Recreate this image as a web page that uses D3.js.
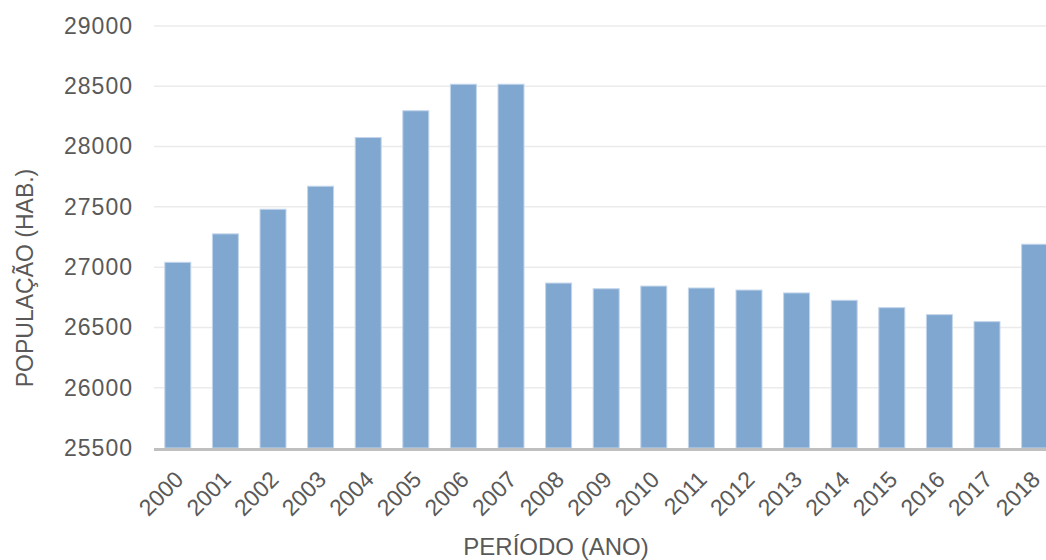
<!DOCTYPE html>
<html>
<head>
<meta charset="utf-8">
<script src="https://cdn.jsdelivr.net/npm/d3@7"></script>
<style>
  html, body { margin: 0; padding: 0; background: #fff; overflow: hidden; }
  text { font-family: "Liberation Sans", Arial, sans-serif; fill: #595959; }
</style>
</head>
<body>
<svg id="chart" width="1046" height="560"></svg>
<script>
// Resident population per year
const years = ["2000","2001","2002","2003","2004","2005","2006","2007","2008","2009",
               "2010","2011","2012","2013","2014","2015","2016","2017","2018"];
const population = [27040, 27276, 27480, 27671, 28075, 28297, 28517, 28517, 26868, 26821,
                    26843, 26827, 26810, 26786, 26725, 26664, 26606, 26548, 27190];
const yTicks = [25500, 26000, 26500, 27000, 27500, 28000, 28500, 29000];
const xTitle = "PERÍODO (ANO)";
const yTitle = "POPULAÇÃO (HAB.)";

const svg = d3.select("#chart");
const plot = { left: 154, right: 1058.4, top: 26, bottom: 448 };
const font = "'Liberation Sans', Arial, sans-serif";

const x = d3.scaleBand()
  .domain(years)
  .range([plot.left, plot.right])
  .paddingInner(0.454)
  .paddingOuter(0.227);

const y = d3.scaleLinear()
  .domain([25500, 29000])
  .range([plot.bottom, plot.top]);

// horizontal gridlines
svg.append("g")
  .selectAll("line")
  .data(yTicks.filter(t => t > 25500))
  .join("line")
  .attr("x1", plot.left).attr("x2", plot.right)
  .attr("y1", d => y(d)).attr("y2", d => y(d))
  .attr("stroke", "#ebebeb")
  .attr("stroke-width", 1.5);

// y tick labels
const yAxis = svg.append("g")
  .attr("transform", `translate(${plot.left},0)`)
  .call(d3.axisLeft(y).tickValues(yTicks).tickSize(0).tickPadding(21).tickFormat(d3.format("d")));
yAxis.select(".domain").remove();
yAxis.selectAll("text")
  .attr("font-size", 23)
  .attr("letter-spacing", 1)
  .attr("fill", "#595959")
  .attr("font-family", font);

// bars
svg.append("g")
  .selectAll("rect")
  .data(years.map((yr, i) => ({ yr, v: population[i] })))
  .join("rect")
  .attr("x", d => x(d.yr))
  .attr("width", x.bandwidth())
  .attr("y", d => y(d.v))
  .attr("height", d => y(25500) - y(d.v))
  .attr("fill", "#80a7d0")
  .attr("stroke", "#c2d5ea")
  .attr("stroke-width", 1);

// baseline
svg.append("line")
  .attr("x1", plot.left).attr("x2", plot.right)
  .attr("y1", plot.bottom + 1.5).attr("y2", plot.bottom + 1.5)
  .attr("stroke", "#bfbfbf")
  .attr("stroke-width", 3);

// x tick labels (rotated)
const xAxis = svg.append("g")
  .attr("transform", `translate(0,${plot.bottom})`)
  .call(d3.axisBottom(x).tickSize(0).tickPadding(0));
xAxis.select(".domain").remove();
xAxis.selectAll("text")
  .attr("font-size", 23)
  .attr("fill", "#595959")
  .attr("font-family", font)
  .attr("text-anchor", "end")
  .attr("dy", null)
  .attr("y", 0)
  .attr("transform", "translate(7,33) rotate(-45)");

// axis titles
svg.append("text")
  .attr("x", 556)
  .attr("y", 555)
  .attr("text-anchor", "middle")
  .attr("font-size", 24)
  .text(xTitle);

svg.append("text")
  .attr("transform", "translate(33,278) rotate(-90)")
  .attr("text-anchor", "middle")
  .attr("font-size", 23)
  .text(yTitle);
</script>
</body>
</html>
